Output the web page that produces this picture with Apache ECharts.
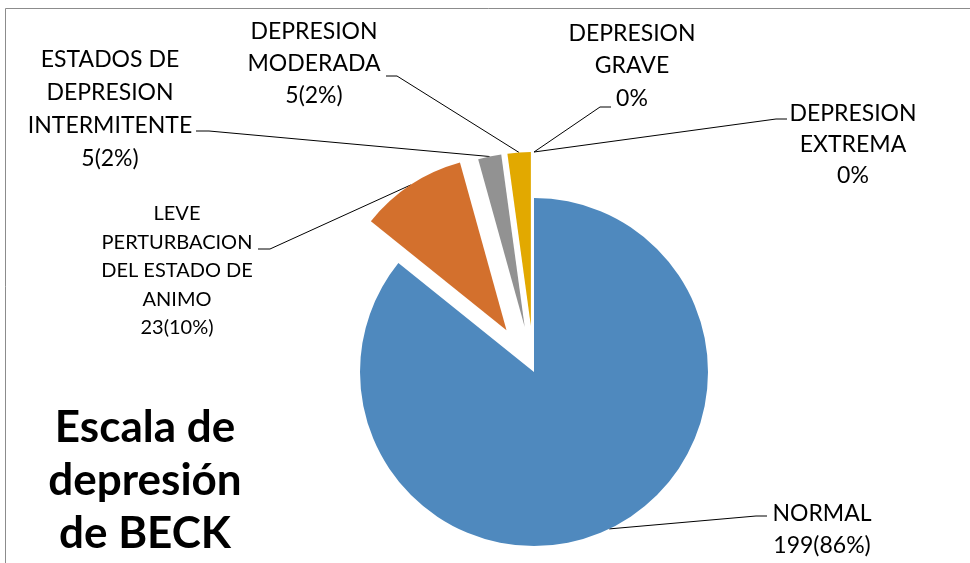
<!DOCTYPE html>
<html>
<head>
<meta charset="utf-8">
<script src="https://cdn.jsdelivr.net/npm/echarts@6/dist/echarts.min.js"></script>
<style>
  html, body { margin: 0; padding: 0; background: #ffffff; }
  #chart { width: 970px; height: 563px; }
</style>
</head>
<body>
<div id="chart"></div>
<script>
// Beck depression inventory results
const categories = [
  'NORMAL',
  'LEVE\nPERTURBACION\nDEL ESTADO DE\nANIMO',
  'ESTADOS DE\nDEPRESION\nINTERMITENTE',
  'DEPRESION\nMODERADA',
  'DEPRESION\nGRAVE',
  'DEPRESION\nEXTREMA'
];
const counts = [199, 23, 5, 5, 0, 0];

// styling, kept apart from the values
const sliceColors = ['#4F89BE', '#D3702D', '#929292', '#E2A900', '#4472C4', '#70AD47'];
const explodeOffsets = [0, 50, 46, 46, 46, 46];
const pieCenter = [534, 372];
const pieRadius = 174;

// text block centre, line spacing, font size and the leader's elbow / end points
const labelPlacement = [
  { x: 822, y: 530, lh: 32, size: 23, elbow: [756, 516], end: [767, 516] },
  { x: 177, y: 271, lh: 28.5, size: 20, elbow: [270, 249], end: [258, 249] },
  { x: 110, y: 109, lh: 33, size: 23, elbow: [209, 131], end: [196, 131] },
  { x: 314, y: 64, lh: 32, size: 23, elbow: [397, 76], end: [386, 76] },
  { x: 632, y: 66, lh: 32.5, size: 23, elbow: [600, 107], end: [611, 107] },
  { x: 853, y: 145, lh: 31, size: 23, elbow: [776, 119], end: [787, 119] }
];

const total = counts.reduce((a, b) => a + b, 0);

// exploded slices: each one lives in its own pie, shifted along its middle angle
function sliceCenter(i) {
  let before = 0;
  for (let k = 0; k < i; k++) before += counts[k];
  const mid = (before + counts[i] / 2) / total * Math.PI * 2;
  const d = explodeOffsets[i];
  return [pieCenter[0] + d * Math.sin(mid), pieCenter[1] - d * Math.cos(mid)];
}

const series = categories.map((_, k) => ({
  type: 'pie',
  center: sliceCenter(k),
  radius: pieRadius,
  startAngle: 90,
  clockwise: true,
  animation: false,
  silent: true,
  avoidLabelOverlap: false,
  percentPrecision: 0,
  label: {
    color: '#000000',
    fontFamily: 'Lato',
    formatter: p => p.value > 0 ? p.name + '\n' + p.value + '(' + p.percent + '%)' : p.name + '\n' + p.percent + '%'
  },
  labelLine: { lineStyle: { color: '#000000', width: 1 } },
  labelLayout: params => {
    const pl = labelPlacement[params.dataIndex];
    const pts = params.labelLinePoints;
    const start = pts && pts[0] ? pts[0] : pl.elbow;
    return {
      x: pl.x,
      y: pl.y,
      align: 'center',
      verticalAlign: 'middle',
      labelLinePoints: [start, pl.elbow, pl.end]
    };
  },
  data: counts.map((v, i) => ({
    name: categories[i],
    value: v,
    itemStyle: { color: i === k ? sliceColors[i] : 'rgba(0,0,0,0)' },
    label: {
      show: i === k,
      fontSize: labelPlacement[i].size,
      lineHeight: labelPlacement[i].lh,
      align: 'center'
    },
    labelLine: { show: i === k }
  }))
}));

const chart = echarts.init(document.getElementById('chart'), null, { renderer: 'canvas' });
chart.setOption({
  backgroundColor: '#ffffff',
  title: {
    text: 'Escala de\ndepresión\nde BECK',
    left: 140,
    top: 396,
    textAlign: 'center',
    textStyle: {
      fontFamily: 'Lato',
      fontWeight: 'bold',
      fontSize: 44,
      lineHeight: 53,
      color: '#000000'
    }
  },
  graphic: [{
    type: 'rect',
    silent: true,
    shape: { x: 5.5, y: 8.5, width: 1000, height: 600 },
    style: { fill: 'none', stroke: '#8c8c8c', lineWidth: 1 }
  }],
  series: series
});
</script>
</body>
</html>
